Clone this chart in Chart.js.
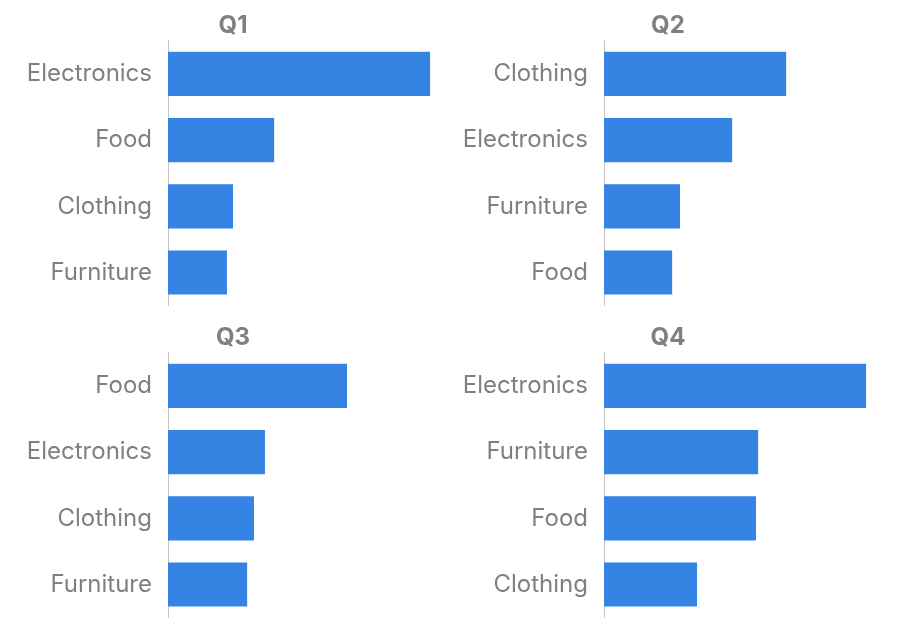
<!DOCTYPE html>
<html>
<head>
<meta charset="utf-8">
<script src="https://cdn.jsdelivr.net/npm/chart.js@4"></script>
<style>
  html, body { margin: 0; padding: 0; background: #ffffff; }
  body { width: 900px; height: 642px; position: relative; overflow: hidden; }
  .panel { position: absolute; }
</style>
</head>
<body>
<div class="panel" style="left:0px;top:0px;width:466px;height:336px"><canvas id="c1"></canvas></div>
<div class="panel" style="left:434px;top:0px;width:468px;height:336px"><canvas id="c2"></canvas></div>
<div class="panel" style="left:0px;top:312px;width:466px;height:336px"><canvas id="c3"></canvas></div>
<div class="panel" style="left:434px;top:312px;width:468px;height:336px"><canvas id="c4"></canvas></div>
<script>
// Data (sales by category, sorted per quarter)
const quarters = ["Q1", "Q2", "Q3", "Q4"];
const q1Categories = ["Electronics", "Food", "Clothing", "Furniture"];
const q1Values = [100, 40.5, 24.8, 22.5];
const q2Categories = ["Clothing", "Electronics", "Furniture", "Food"];
const q2Values = [69.5, 48.9, 29.0, 26.0];
const q3Categories = ["Food", "Electronics", "Clothing", "Furniture"];
const q3Values = [68.3, 37.0, 32.8, 30.2];
const q4Categories = ["Electronics", "Furniture", "Food", "Clothing"];
const q4Values = [100, 58.8, 58.0, 35.5];
const xMax = 113.7; // shared x domain across panels

const FONT = "Inter, 'Noto Sans', 'DejaVu Sans', sans-serif";
const BAR = "#3584e4";
const TEXT = "#808080";

function makeChart(canvasId, title, cats, vals, axisWidth) {
  new Chart(document.getElementById(canvasId), {
    type: "bar",
    data: {
      labels: cats,
      datasets: [{
        data: vals,
        backgroundColor: BAR,
        borderWidth: 0,
        barPercentage: 0.667,
        categoryPercentage: 1.0
      }]
    },
    options: {
      indexAxis: "y",
      responsive: true,
      maintainAspectRatio: false,
      animation: false,
      layout: { padding: { top: 0, right: 0, bottom: 2, left: 0 } },
      plugins: {
        legend: { display: false },
        tooltip: { enabled: false },
        title: {
          display: true,
          text: title,
          color: TEXT,
          font: { family: FONT, size: 24, weight: "bold", lineHeight: 1.2 },
          padding: { top: 11, bottom: 1 }
        }
      },
      scales: {
        x: {
          display: false,
          min: 0,
          max: xMax
        },
        y: {
          grid: { display: false, drawTicks: false },
          border: { display: true, color: "#c4c4c4", width: 1 },
          ticks: {
            color: TEXT,
            font: { family: FONT, size: 24, lineHeight: 1.2 },
            padding: 16
          },
          afterFit: function (scale) { scale.width = axisWidth; }
        }
      }
    }
  });
}

makeChart("c1", quarters[0], q1Categories, q1Values, 168);
makeChart("c2", quarters[1], q2Categories, q2Values, 170);
makeChart("c3", quarters[2], q3Categories, q3Values, 168);
makeChart("c4", quarters[3], q4Categories, q4Values, 170);
</script>
</body>
</html>
